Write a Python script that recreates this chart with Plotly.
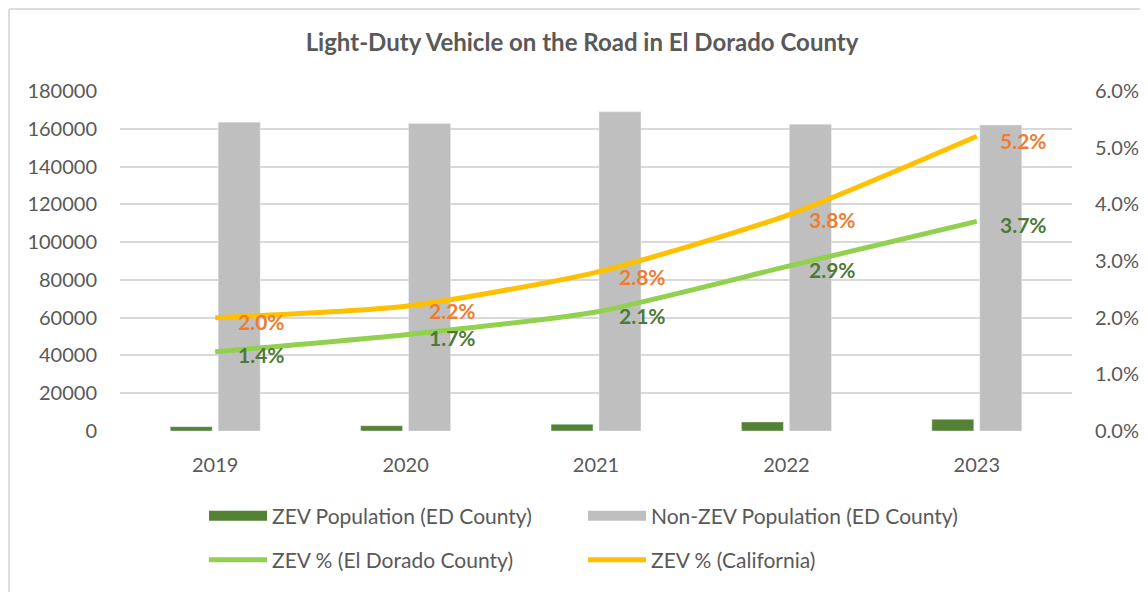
import plotly.graph_objects as go

years = ["2019", "2020", "2021", "2022", "2023"]
zev_pop = [2300, 2800, 3600, 4800, 6200]
non_zev_pop = [163500, 162800, 169000, 162400, 162000]
zev_pct_ed = [0.014, 0.017, 0.021, 0.029, 0.037]
zev_pct_ca = [0.020, 0.022, 0.028, 0.038, 0.052]
left_ticks = [0, 20000, 40000, 60000, 80000, 100000, 120000, 140000, 160000, 180000]
right_ticks = [0, 0.01, 0.02, 0.03, 0.04, 0.05, 0.06]

FONT = "Lato"
GREY_TXT = "#595959"
C_ZEV = "#548235"
C_NON = "#BFBFBF"
C_ED = "#92D050"
C_CA = "#FFC000"

# page offset (browser body margin)
OFF = 8
W, H = 1148, 592
# plot area in page pixels
PL, PR, PT, PB = 120, 1072, 91, 431
L, R, T, B = PL - OFF, PR - OFF, PT - OFF, PB - OFF
pw, ph = R - L, B - T

def px2x(p):
    return (p - OFF - L) / pw

def py2y(p):
    return (B - (p - OFF)) / ph

fig = go.Figure()
fig.add_trace(go.Bar(x=years, y=zev_pop, name="ZEV Population (ED County)",
                     marker_color=C_ZEV, showlegend=False))
fig.add_trace(go.Bar(x=years, y=non_zev_pop, name="Non-ZEV Population (ED County)",
                     marker_color=C_NON, showlegend=False))
# legend proxies for the bars (wide rectangles like the original)
fig.add_trace(go.Scatter(x=[None], y=[None], name="ZEV Population (ED County)", mode="lines",
                         line=dict(color=C_ZEV, width=14), legend="legend", hoverinfo="skip"))
fig.add_trace(go.Scatter(x=[None], y=[None], name="Non-ZEV Population (ED County)", mode="lines",
                         line=dict(color=C_NON, width=14), legend="legend", hoverinfo="skip"))
fig.add_trace(go.Scatter(x=years, y=zev_pct_ed, name="ZEV % (El Dorado County)",
                         mode="lines", line=dict(color=C_ED, width=5, shape="spline", smoothing=0.6),
                         yaxis="y2", legend="legend2"))
fig.add_trace(go.Scatter(x=years, y=zev_pct_ca, name="ZEV % (California)",
                         mode="lines", line=dict(color=C_CA, width=5, shape="spline", smoothing=0.6),
                         yaxis="y2", legend="legend2"))

anns = []
for i, yv in enumerate(zev_pct_ed):
    anns.append(dict(x=i, y=yv, xref="x", yref="y2", text=f"{yv*100:.1f}%", showarrow=False,
                     xanchor="left", yanchor="middle", xshift=21, yshift=-3,
                     font=dict(family=FONT, size=21, color="#4E7A37", weight="bold")))
for i, yv in enumerate(zev_pct_ca):
    anns.append(dict(x=i, y=yv, xref="x", yref="y2", text=f"{yv*100:.1f}%", showarrow=False,
                     xanchor="left", yanchor="middle", xshift=21, yshift=-4,
                     font=dict(family=FONT, size=21, color="#ED7D31", weight="bold")))

fig.update_layout(
    width=W, height=H,
    margin=dict(l=L, r=W - R, t=T, b=H - B, autoexpand=False),
    paper_bgcolor="white", plot_bgcolor="white",
    barmode="group", bargap=0.496, bargroupgap=0.125,
    font=dict(family=FONT, color=GREY_TXT),
    title=dict(text="<b>Light-Duty Vehicle on the Road in El Dorado County</b>",
               x=(582 - OFF) / W, xref="container", xanchor="center",
               y=1 - (43 - OFF) / H, yref="container", yanchor="middle",
               font=dict(family=FONT, size=24, color=GREY_TXT)),
    xaxis=dict(type="category", range=[-0.5, 4.5], showgrid=False, showline=False, ticks="",
               ticklabelstandoff=20,
               tickfont=dict(family=FONT, size=20, color=GREY_TXT)),
    yaxis=dict(range=[0, 180000], tickvals=left_ticks, ticktext=[str(v) for v in left_ticks],
               showgrid=True, gridcolor="#D9D9D9", gridwidth=1.5, zeroline=False, showline=False,
               ticks="", ticklabelstandoff=22,
               tickfont=dict(family=FONT, size=20, color=GREY_TXT)),
    yaxis2=dict(range=[0, 0.06], tickvals=right_ticks, tickformat=".1%", overlaying="y",
                side="right", showgrid=False, zeroline=False, showline=False, ticks="",
                ticklabelstandoff=22,
                tickfont=dict(family=FONT, size=20, color=GREY_TXT)),
    legend=dict(orientation="h", x=px2x(204), xanchor="left", y=py2y(516), yanchor="middle",
                entrywidth=306, itemwidth=58, font=dict(family=FONT, size=21, color=GREY_TXT),
                bgcolor="rgba(0,0,0,0)"),
    legend2=dict(orientation="h", x=px2x(204), xanchor="left", y=py2y(560), yanchor="middle",
                 entrywidth=306, itemwidth=58, font=dict(family=FONT, size=21, color=GREY_TXT),
                 bgcolor="rgba(0,0,0,0)"),
    annotations=anns,
    shapes=[
        dict(type="line", xref="paper", yref="paper",
             x0=px2x(9), x1=px2x(9), y0=py2y(9), y1=py2y(600),
             line=dict(color="#DDDDDD", width=2), layer="below"),
        dict(type="line", xref="paper", yref="paper",
             x0=px2x(9), x1=px2x(1160), y0=py2y(9), y1=py2y(9),
             line=dict(color="#DDDDDD", width=2), layer="below"),
    ],
)

fig.write_html("out.html")
